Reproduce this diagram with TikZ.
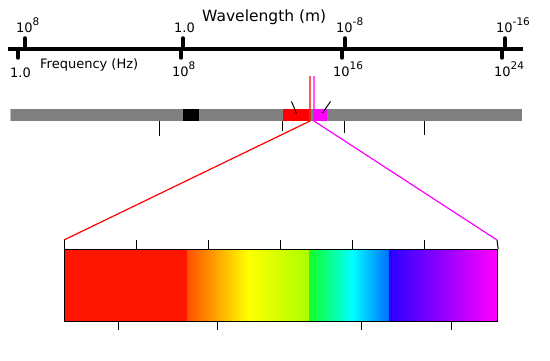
\documentclass[tikz,border=0pt]{standalone}
\usepackage{fontspec}
\setmainfont{DejaVu Sans}
\newcommand\supr[1]{\raisebox{7pt}{\fontsize{10.5}{11}\selectfont #1}}
\definecolor{barcol}{RGB}{128,128,128}
\definecolor{sp0}{RGB}{255,22,0}
\definecolor{sp1}{RGB}{255,80,0}
\definecolor{sp2}{RGB}{255,255,0}
\definecolor{sp3}{RGB}{170,255,0}
\definecolor{sp4}{RGB}{20,255,40}
\definecolor{sp5}{RGB}{0,255,255}
\definecolor{sp6}{RGB}{0,110,255}
\definecolor{sp7}{RGB}{40,0,255}
\definecolor{sp8}{RGB}{255,0,255}
\definecolor{mag}{RGB}{255,0,255}
\begin{document}
\begin{tikzpicture}[x=1pt,y=-1pt,
  axisline/.style={line width=4pt},
  axtick/.style={line width=3.5pt,line cap=round},
  fine/.style={line width=1pt},
  lbl/.style={anchor=base west,inner sep=0pt,font=\fontsize{13}{15}\selectfont},
  title/.style={anchor=base west,inner sep=0pt}]
\useasboundingbox (0,0) rectangle (550,361);
% top axis
\coordinate (axL) at (8,48.7);
\coordinate (axR) at (523,48.7);
\draw[axisline] (axL) -- (axR);
\foreach \u/\d [count=\i] in {25/18,183/181,345/342,505/502}{
  \coordinate (up\i) at (\u,38);
  \coordinate (upb\i) at (\u,48.7);
  \coordinate (dn\i) at (\d,58);
  \coordinate (dnb\i) at (\d,48.7);
  \draw[axtick] (up\i) -- (upb\i);
  \draw[axtick] (dnb\i) -- (dn\i);
}
\node[title,font=\fontsize{15.5}{18}\selectfont] (wl) at (202,21.5) {Wavelength (m)};
\node[title,font=\fontsize{13}{15}\selectfont] (fr) at (40,68.5) {Frequency (Hz)};
\node[lbl] (t1) at (16,32.5) {10\supr{8}};
\node[lbl] (t2) at (174,32.5) {1.0};
\node[lbl] (t3) at (336,32.5) {10\supr{-8}};
\node[lbl] (t4) at (496,32.5) {10\supr{-16}};
\node[lbl] (b1) at (10,77.5) {1.0};
\node[lbl] (b2) at (172,76.5) {10\supr{8}};
\node[lbl] (b3) at (333,76.5) {10\supr{16}};
\node[lbl] (b4) at (494,76.5) {10\supr{24}};
% spectrum bar
\fill[barcol] (10,109) rectangle (522,121);
\fill[barcol!50] (10,109) rectangle (11,121);
\fill[black] (183,109) rectangle (199,121);
\fill[red] (283,109) rectangle (309,121);
\fill[mag] (314,109) rectangle (327,121);
\draw[fine] (159.5,121) -- (159.5,136);
\draw[fine] (282.7,121) -- (282.7,131);
\draw[fine] (344,121) -- (344,133);
\draw[fine] (424,121) -- (424,135);
\draw[fine] (291.5,101.5) -- (296.5,113.5);
\draw[fine] (330.5,101.5) -- (322.5,113);
% zoom lines
\coordinate (rTop) at (310,76);
\coordinate (rBot) at (310,121);
\coordinate (mTop) at (314,76);
\coordinate (mBot) at (314,121);
\coordinate (boxTL) at (64,240);
\coordinate (boxTR) at (497,240);
\draw[red,line width=1.2pt] (rTop) -- (rBot) -- (boxTL);
\draw[mag,line width=1.2pt] (mTop) -- (mBot) -- (boxTR);
% visible spectrum
\fill[sp0] (64,249) rectangle (187,321);
\shade[left color=sp1,right color=sp2] (187,249) rectangle (248,321);
\shade[left color=sp2,right color=sp3] (248,249) rectangle (309,321);
\shade[left color=sp4,right color=sp5] (309,249) rectangle (352,321);
\shade[left color=sp5,right color=sp6] (352,249) rectangle (389,321);
\shade[left color=sp7,right color=sp8] (389,249) rectangle (497,321);
\node[draw,line width=1.2pt,minimum width=433pt,minimum height=72pt,inner sep=0pt,anchor=north west] (vis) at (64,249) {};
\draw[fine] (boxTL) -- (vis.north west);
\draw[fine] (boxTR) -- (vis.north east);
\foreach \x in {136,208,280,352,424}{\draw[fine] (\x,240) -- (\x,249);}
\foreach \x in {118.3,217.3,361.3,451.7}{\draw[fine] (\x,321) -- (\x,330);}
\end{tikzpicture}
\end{document}
